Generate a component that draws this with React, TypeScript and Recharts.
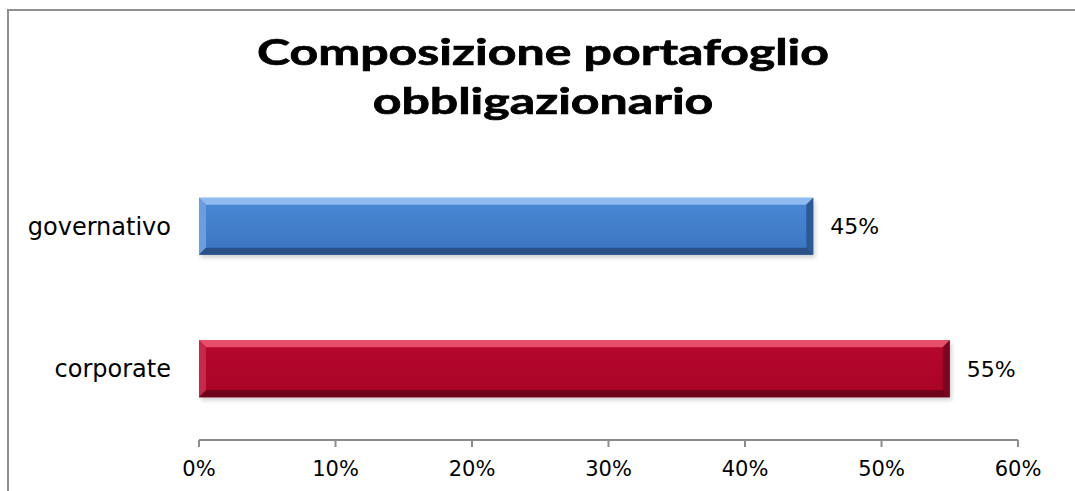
import { Bar, BarChart, Cell, LabelList, XAxis, YAxis } from "recharts";

const categories = ["governativo", "corporate"];
const shares = [45, 55];
const xTicks = [0, 10, 20, 30, 40, 50, 60];
const title = ["Composizione portafoglio", "obbligazionario"];

const data = categories.map((name, i) => ({ name, value: shares[i] }));

// bevelled look of the old office charts
const palettes = [
  { id: "blu", top: "#9cc4f2", mid1: "#4a8ad6", mid2: "#3b74c0", left: "#6a9edd", right: "#2d5a94", bottom: "#2a5088" },
  { id: "rosso", top: "#ee5b74", mid1: "#b6072e", mid2: "#a80426", left: "#c8284a", right: "#7c0420", bottom: "#6e031b" },
];

const AXIS = "#8c8c8c";
const FONT = "'DejaVu Sans', Verdana, sans-serif";

function BevelBar(props: any) {
  const { x, y, width, height, index } = props;
  if (!width || width <= 0) return null;
  const p = palettes[index % palettes.length];
  const b = 7;
  const r = x + width;
  const btm = y + height;
  return (
    <g>
      <rect x={x + 2} y={y + 3} width={width} height={height} fill="#000" opacity={0.18} filter="url(#ombra)" />
      <rect x={x} y={y} width={width} height={height} fill={`url(#g-${p.id})`} />
      <polygon points={`${x},${y} ${r},${y} ${r - b},${y + b} ${x + b},${y + b}`} fill={p.top} opacity={0.85} />
      <polygon points={`${x},${y} ${x + b},${y + b} ${x + b},${btm - b} ${x},${btm}`} fill={p.left} />
      <polygon points={`${r},${y} ${r},${btm} ${r - b},${btm - b} ${r - b},${y + b}`} fill={p.right} />
      <polygon points={`${x},${btm} ${r},${btm} ${r - b},${btm - b} ${x + b},${btm - b}`} fill={p.bottom} />
    </g>
  );
}

export default function App() {
  return (
    <div
      style={{
        position: "fixed",
        left: 0,
        top: 0,
        width: 1075,
        height: 491,
        overflow: "hidden",
        background: "#fff",
      }}
    >
      {/* cornice: solo lato sinistro e superiore sono visibili */}
      <svg width={1075} height={491} style={{ position: "absolute", left: 0, top: 0 }}>
        <polyline points="8,491 8,10 1075,10" fill="none" stroke="#8f8f8f" strokeWidth={2} />
      </svg>
      <div
        style={{
          position: "absolute",
          left: 0,
          top: 27,
          width: 1086,
          textAlign: "center",
          fontFamily: "Lato, sans-serif",
          fontWeight: 700,
          fontSize: 36,
          lineHeight: "49px",
          color: "#000",
          WebkitTextStroke: "0.7px #000",
          transform: "scaleX(1.39)",
          transformOrigin: "543px 0",
        }}
      >
        {title.map((t) => (
          <div key={t}>{t}</div>
        ))}
      </div>
      <div style={{ position: "absolute", left: 0, top: 0 }}>
        <BarChart
          width={1075}
          height={491}
          data={data}
          layout="vertical"
          barCategoryGap="30%"
          margin={{ top: 155, right: 57, bottom: 11, left: 9 }}
        >
          <defs>
            {palettes.map((p) => (
              <linearGradient key={p.id} id={`g-${p.id}`} x1="0" y1="0" x2="0" y2="1">
                <stop offset="0%" stopColor={p.mid1} />
                <stop offset="100%" stopColor={p.mid2} />
              </linearGradient>
            ))}
            <filter id="ombra" x="-5%" y="-20%" width="110%" height="160%">
              <feGaussianBlur stdDeviation="2" />
            </filter>
          </defs>
          <XAxis
            type="number"
            domain={[0, 60]}
            ticks={xTicks}
            tickFormatter={(v) => `${v}%`}
            height={40}
            stroke={AXIS}
            strokeWidth={2}
            tickSize={7}
            tickMargin={14}
            tick={{ fill: "#000", fontSize: 21, fontFamily: FONT }}
          />
          <YAxis
            yAxisId="griglia"
            type="number"
            domain={[0, 2]}
            ticks={[0, 1, 2]}
            width={0}
            stroke={AXIS}
            strokeWidth={2}
            tickSize={8}
            tick={false}
          />
          <YAxis
            yAxisId="cat"
            type="category"
            dataKey="name"
            width={190}
            axisLine={false}
            tickLine={false}
            tickMargin={22}
            tick={{ fill: "#000", fontSize: 24, fontFamily: FONT }}
          />
          <Bar dataKey="value" yAxisId="cat" isAnimationActive={false} shape={BevelBar}>
            {data.map((d) => (
              <Cell key={d.name} />
            ))}
            <LabelList
              dataKey="value"
              position="right"
              offset={17}
              formatter={(v: any) => `${v}%`}
              fill="#000"
              style={{ fontSize: 22, fontFamily: FONT }}
            />
          </Bar>
        </BarChart>
      </div>
    </div>
  );
}
